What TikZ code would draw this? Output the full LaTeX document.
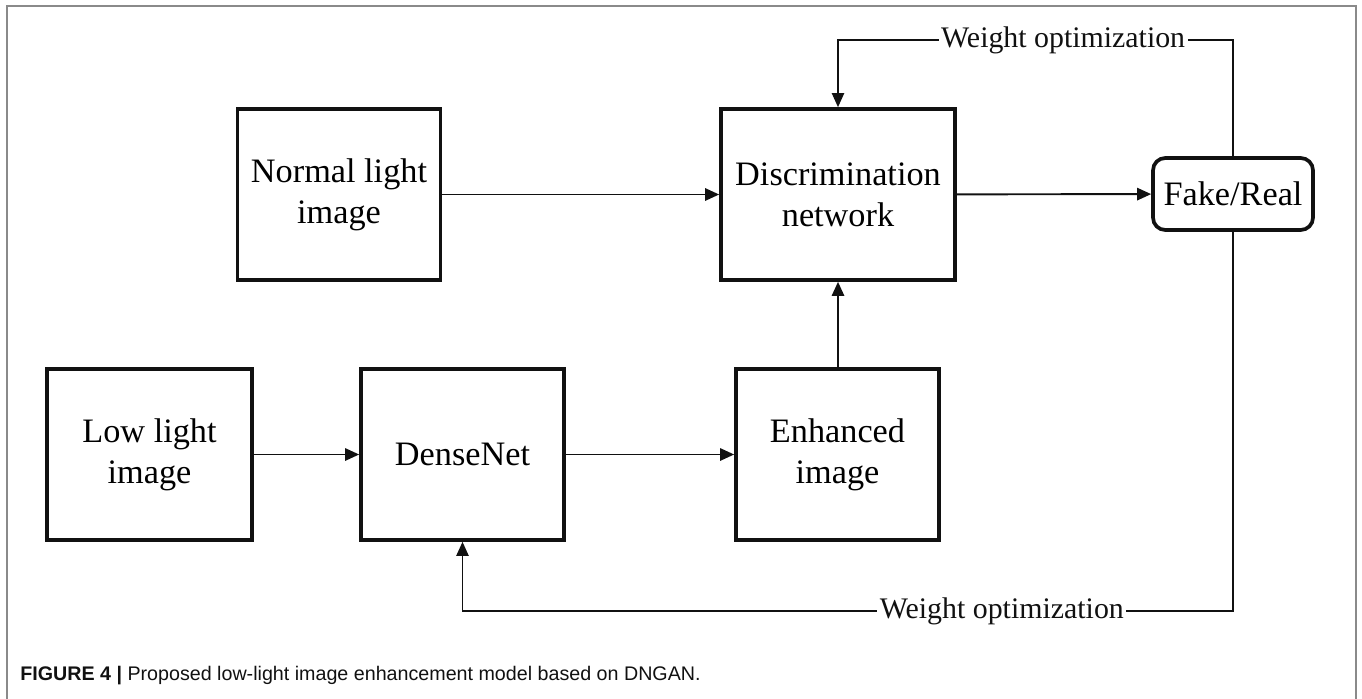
\documentclass[tikz,border=0pt]{standalone}
\usepackage{fontspec}
\setmainfont{Liberation Serif}
\newfontfamily\captionfont{Liberation Sans}
\usepackage{xcolor}
\definecolor{framegray}{HTML}{8A8A8A}
\definecolor{ink}{HTML}{111111}
\usepackage{tikz}
\usetikzlibrary{arrows.meta,positioning,calc}
\tikzset{
    block/.style={draw=ink, fill=white, line width=2.1pt, align=center, font=\fontsize{19.5}{23.5}\selectfont, inner sep=0pt, minimum width=4.06cm, minimum height=3.42cm},
    outcome/.style={block, rounded corners=7pt, minimum width=3.2cm, minimum height=1.44cm},
    arrow/.style={-{Triangle[length=8pt,width=7pt]}, line width=1.1pt, ink},
    feedback/.style={-{Triangle[length=8pt,width=7pt]}, line width=0.8pt, ink},
    weight/.style={fill=white, inner sep=1.5pt, font=\fontsize{17}{20}\selectfont}
}

\begin{document}
\begin{tikzpicture}[x=0.02cm, y=-0.02cm]
  \useasboundingbox (0,0) rectangle (1362,699);
  % Figure frame (open at the bottom)
  \draw[framegray, line width=1.1pt] (7,699) -- (7,6) -- (1356,6) -- (1356,699);

  % Pipeline nodes
  \node[block] (normal) at (339, 194.5) {Normal light\\image};
  \node[block, minimum width=4.68cm] (disc) at (838, 194.5) {Discrimination\\network};
  \node[outcome] (fakereal) at (1233, 194) {Fake/Real};

  \node[block, minimum width=4.1cm] (lowimg) at (149.5, 454.5) {Low light\\image};
  \node[block] (densenet) at (462.5, 454.5) {DenseNet};
  \node[block] (enhanced) at (837.5, 454.5) {Enhanced\\image};

  % Connecting arrows
  \draw[arrow] (normal) -- (disc);
  \draw[arrow] (disc) -- (fakereal);
  \draw[arrow] (lowimg) -- (densenet);
  \draw[arrow] (densenet) -- (enhanced);
  \draw[arrow] (enhanced.north -| disc.south) -- (disc.south);

  % Feedback
  \coordinate (topbar) at (0, 40);
  \coordinate (lowbar) at (0, 611);
  \draw[feedback] (fakereal.north) -- (fakereal.north |- topbar)
    -- node[weight, pos=0.43] (wtop) {Weight optimization} (disc.north |- topbar) -- (disc.north);
  \draw[feedback] (fakereal.south) -- (fakereal.south |- lowbar)
    -- node[weight, pos=0.30] (wlow) {Weight optimization} (densenet.south |- lowbar) -- (densenet.south);

  % Caption
  \node[anchor=base west, inner sep=0pt, font=\captionfont\fontsize{11.2}{13}\selectfont, text=ink] (caption) at (20, 680)
    {\textbf{FIGURE 4 |} Proposed low-light image enhancement model based on DNGAN.};
\end{tikzpicture}
\end{document}
